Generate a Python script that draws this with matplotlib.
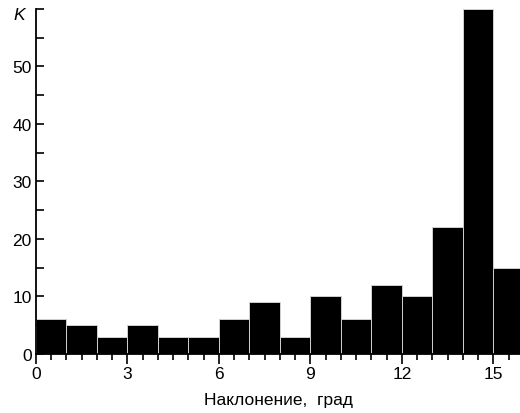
import matplotlib.pyplot as plt

plt.rcParams['font.family'] = ['Liberation Sans', 'DejaVu Sans']

bins = list(range(16))
counts = [6, 5, 3, 5, 3, 3, 6, 9, 3, 10, 6, 12, 10, 22, 60, 15]
xticks = [0, 3, 6, 9, 12, 15]
yticks = [0, 10, 20, 30, 40, 50, 60]

fig = plt.figure(figsize=(5.2, 4.14), dpi=100)
ax = fig.add_axes([0.069, 0.1425, 0.931, 0.8335])

ax.bar(bins, counts, width=1.0, align='edge', color='black', edgecolor='#d0d0d0', linewidth=0.7)

ax.set_xlim(0, 15.87)
ax.set_ylim(0, 60)
ax.set_xticks(xticks)
ax.set_xticks([i * 0.5 for i in range(32)], minor=True)
ax.set_yticks(yticks)
ax.set_yticklabels([str(v) for v in yticks[:-1]] + [''])
ax.set_yticks([5, 15, 25, 35, 45, 55], minor=True)

ax.tick_params(axis='x', which='major', direction='out', length=7, width=1.2, labelsize=12.5, pad=1.5)
ax.tick_params(axis='x', which='minor', direction='out', length=4, width=1.2)
ax.tick_params(axis='y', which='major', direction='in', length=6, width=1.2, labelsize=12.5, pad=3)
ax.tick_params(axis='y', which='minor', direction='in', length=6, width=1.2)

for s in ['top', 'right']:
    ax.spines[s].set_visible(False)
for s in ['left', 'bottom']:
    ax.spines[s].set_linewidth(1.3)

ax.text(-0.35, 59, 'K', style='italic', fontsize=12.5, ha='right', va='center')
ax.set_xlabel('Наклонение,  град', fontsize=12.5, labelpad=8)

fig.savefig('out.png', dpi=100)
